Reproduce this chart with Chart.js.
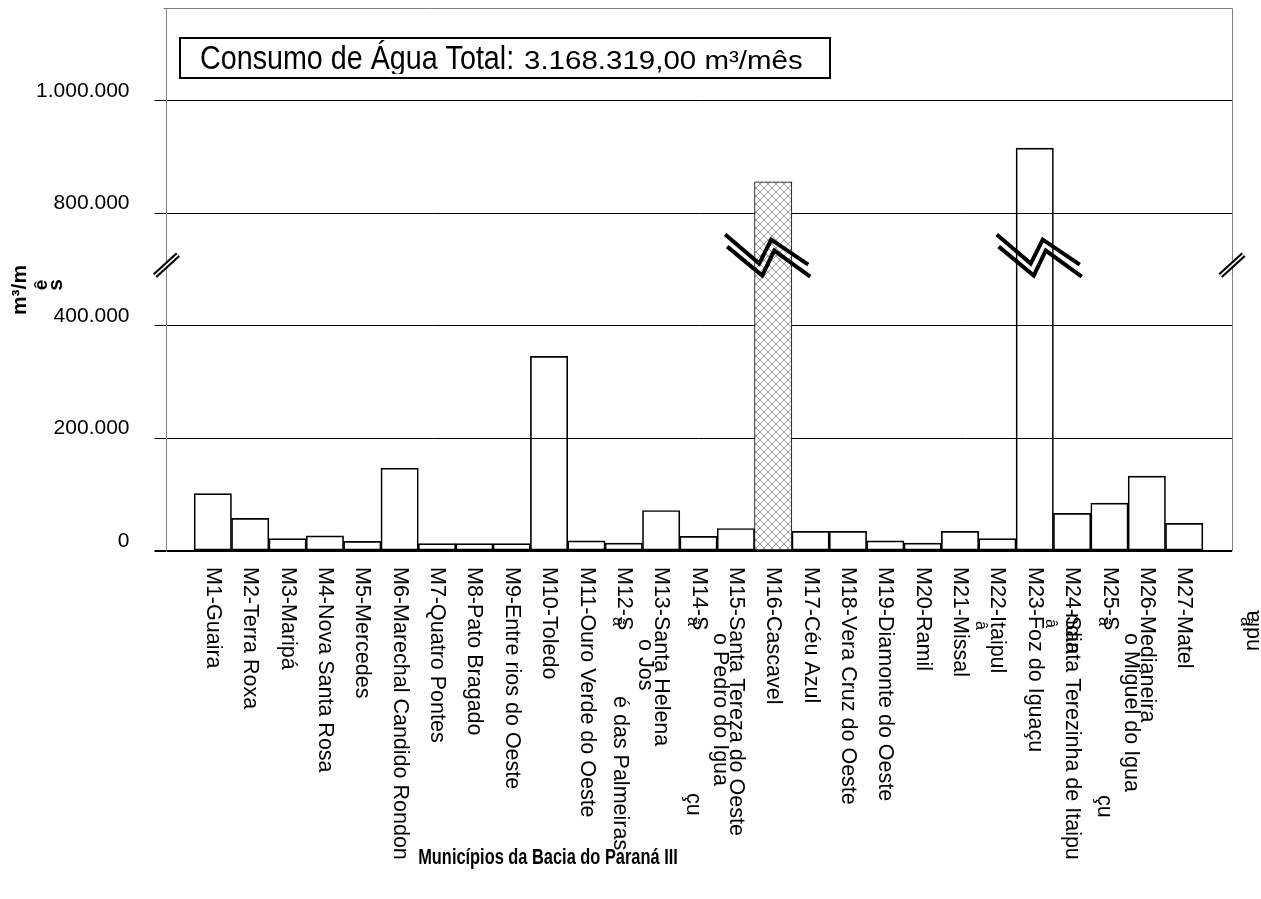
<!DOCTYPE html>
<html>
<head>
<meta charset="utf-8">
<script src="https://cdn.jsdelivr.net/npm/chart.js@4.4.1/dist/chart.umd.min.js"></script>
<style>
  html, body { margin: 0; padding: 0; background: #ffffff; }
  canvas { display: block; }
</style>
</head>
<body>
<canvas id="chart" width="1261" height="899"></canvas>
<script>
// Municipalities of the Paraná III basin (labels as they are printed under each bar)
const categories = [
  'M1-Guaira', 'M2-Terra Roxa', 'M3-Maripá', 'M4-Nova Santa Rosa', 'M5-Mercedes',
  'M6-Marechal Candido Rondon', 'M7-Quatro Pontes', 'M8-Pato Bragado', 'M9-Entre rios do Oeste',
  'M10-Toledo', 'M11-Ouro Verde do Oeste', 'M12-S', 'M13-Santa Helena', 'M14-S',
  'M15-Santa Tereza do Oeste', 'M16-Cascavel', 'M17-Céu Azul', 'M18-Vera Cruz do Oeste',
  'M19-Diamonte do Oeste', 'M20-Ramil', 'M21-Missal', 'M22-Itaipul', 'M23-Foz do Iguaçu',
  'M24-Santa Terezinha de Itaipu', 'M25-S', 'M26-Medianeira', 'M27-Matel'
];

// Water consumption per municipality (m³/mês)
const consumption = [
  102000, 58000, 22000, 27000, 17000,
  147000, 13000, 13000, 13000,
  346000, 18000, 14000, 72000, 26000,
  40000, 856000, 35000, 35000,
  18000, 14000, 35000, 22000, 916000,
  67000, 85000, 133000, 49000
];

// Value axis (broken between 400.000 and 800.000)
const tickValues = [0, 200000, 400000, 800000, 1000000];
const tickLabels = ['0', '200.000', '400.000', '800.000', '1.000.000'];
const breakFrom = 400000;
const breakTo = 800000;

const hatchedIndex = 15;
const titleLead = 'Consumo de Água Total:';
const titleValue = '3.168.319,00 m³/mês';
const yTitle = ['m³/m', 'ê', 's'];
const xTitle = 'Municípios da Bacia do Paraná III';

// Loose text pieces printed around some category names
const labelPieces = [
  { at: 11, text: 'ã', along: 50, perp: -6, size: 16 },
  { at: 11, text: 'o Jos', along: 72, perp: 21, size: 21.5 },
  { at: 11, text: 'é das Palmeiras', along: 129, perp: -4, size: 21.5 },
  { at: 13, text: 'ã', along: 50, perp: -6, size: 16 },
  { at: 13, text: 'o Pedro do Igua', along: 66, perp: 21, size: 21.5 },
  { at: 13, text: 'çu', along: 226, perp: -6, size: 21.5 },
  { at: 21, text: 'â', along: 54, perp: -17, size: 16 },
  { at: 23, text: 'â', along: 52, perp: -22, size: 16 },
  { at: 23, text: 'ndia', along: 46, perp: 0, size: 21.5 },
  { at: 24, text: 'ã', along: 50, perp: -6, size: 16 },
  { at: 24, text: 'o Miguel do Igua', along: 66, perp: 21, size: 21.5 },
  { at: 24, text: 'çu', along: 228, perp: -6, size: 21.5 },
  { at: 26, text: 'â', along: 50, perp: 61, size: 16 },
  { at: 26, text: 'ndia', along: 84, perp: 69, size: 21.5, upward: true }
];

// Zigzag break marks drawn across the two tall bars
const breakMarks = [ { at: 15, dx: -6 }, { at: 22, dx: 4 } ];
const breakLevel = 525000;   // in compressed axis units
const axisBreakLevel = 508000;

const FONT = '"Liberation Sans", Arial, Helvetica, sans-serif';

// Map a real value onto the compressed axis (400k–800k squeezed into one grid step)
function toAxis(v) {
  if (v <= breakFrom) return v;
  if (v <= breakTo) return breakFrom + (v - breakFrom) / 2;
  return v - (breakTo - breakFrom) / 2;
}
const axisTicks = tickValues.map(toAxis);

function makeHatch() {
  const c = document.createElement('canvas');
  c.width = 8; c.height = 8;
  const g = c.getContext('2d');
  g.fillStyle = '#ffffff';
  g.fillRect(0, 0, 8, 8);
  g.strokeStyle = '#9a9a9a';
  g.lineWidth = 1;
  g.beginPath();
  g.moveTo(0, 0); g.lineTo(8, 8);
  g.moveTo(8, 0); g.lineTo(0, 8);
  g.stroke();
  return g.createPattern(c, 'repeat');
}
const hatch = makeHatch();

function rotText(ctx, text, x, y, angle, font, align) {
  ctx.save();
  ctx.translate(x, y);
  ctx.rotate(angle);
  ctx.font = font;
  ctx.textAlign = align || 'left';
  ctx.textBaseline = 'middle';
  ctx.fillStyle = '#000';
  ctx.fillText(text, 0, 0);
  ctx.restore();
}

const decorations = {
  id: 'decorations',
  afterDatasetsDraw(chart) {
    const ctx = chart.ctx;
    const xs = chart.scales.x, ys = chart.scales.y;
    const area = chart.chartArea;

    // plot frame (top and right)
    ctx.save();
    ctx.strokeStyle = '#808080';
    ctx.lineWidth = 1;
    ctx.beginPath();
    ctx.moveTo(area.left - 3, area.top + 0.5);
    ctx.lineTo(area.right + 0.5, area.top + 0.5);
    ctx.lineTo(area.right + 0.5, area.bottom);
    ctx.stroke();
    ctx.restore();

    // zigzag breaks on the tall bars
    const by = ys.getPixelForValue(breakLevel);
    const strokes = [
      [[-42, -21], [-8, 8], [4, -16], [41, 9]],
      [[-40, -9], [-5, 20], [7, -5], [43, 21]]
    ];
    ctx.save();
    ctx.strokeStyle = '#000';
    ctx.lineWidth = 4;
    ctx.lineJoin = 'miter';
    breakMarks.forEach(m => {
      const cx = xs.getPixelForValue(m.at) + m.dx;
      strokes.forEach(s => {
        ctx.beginPath();
        s.forEach((p, k) => {
          if (k === 0) ctx.moveTo(cx + p[0], by + p[1]);
          else ctx.lineTo(cx + p[0], by + p[1]);
        });
        ctx.stroke();
      });
    });
    ctx.restore();

    // double-slash breaks on both plot edges
    const ay = ys.getPixelForValue(axisBreakLevel);
    [area.left, area.right].forEach(ex => {
      ctx.save();
      ctx.lineCap = 'butt';
      ctx.beginPath();
      ctx.moveTo(ex - 11.5, ay + 10.5);
      ctx.lineTo(ex + 11.5, ay - 10.5);
      ctx.strokeStyle = '#000';
      ctx.lineWidth = 6;
      ctx.stroke();
      ctx.strokeStyle = '#fff';
      ctx.lineWidth = 1.6;
      ctx.stroke();
      ctx.restore();
    });
  },
  afterDraw(chart) {
    const ctx = chart.ctx;
    const xs = chart.scales.x;
    const area = chart.chartArea;
    const labelTop = area.bottom + 16;

    // category names, reading downward
    categories.forEach((name, i) => {
      const x = xs.getPixelForValue(i);
      rotText(ctx, name, x, labelTop, Math.PI / 2, '21.5px ' + FONT, 'left');
    });
    labelPieces.forEach(p => {
      const x = xs.getPixelForValue(p.at) + p.perp;
      const font = p.size + 'px ' + FONT;
      if (p.upward) rotText(ctx, p.text, x, labelTop + p.along, -Math.PI / 2, font, 'left');
      else rotText(ctx, p.text, x, labelTop + p.along, Math.PI / 2, font, 'left');
    });

    // axis titles
    rotText(ctx, yTitle[0], 20, 290, -Math.PI / 2, 'bold 21px ' + FONT, 'center');
    rotText(ctx, yTitle[1], 42, 285, -Math.PI / 2, 'bold 19px ' + FONT, 'center');
    rotText(ctx, yTitle[2], 56, 285, -Math.PI / 2, 'bold 21px ' + FONT, 'center');

    ctx.save();
    ctx.translate(548, 858);
    ctx.scale(1, 1.3);
    ctx.font = 'bold 16.4px ' + FONT;
    ctx.textAlign = 'center';
    ctx.textBaseline = 'middle';
    ctx.fillStyle = '#000';
    ctx.fillText(xTitle, 0, 0);
    ctx.restore();

    // total consumption box
    ctx.save();
    ctx.fillStyle = '#fff';
    ctx.fillRect(180, 38, 650, 40);
    ctx.strokeStyle = '#000';
    ctx.lineWidth = 2;
    ctx.strokeRect(180, 38, 650, 40);
    ctx.beginPath();
    ctx.rect(181, 39, 648, 35);
    ctx.clip();
    ctx.fillStyle = '#000';
    ctx.textBaseline = 'alphabetic';
    ctx.textAlign = 'left';
    ctx.save();
    ctx.translate(200, 69);
    ctx.scale(1, 1.15);
    ctx.font = '28.7px ' + FONT;
    ctx.fillText(titleLead, 0, 0);
    ctx.restore();
    ctx.translate(524, 69);
    ctx.scale(1.18, 1);
    ctx.font = '25px ' + FONT;
    ctx.fillText(titleValue, 0, 0);
    ctx.restore();
  }
};

new Chart(document.getElementById('chart'), {
  type: 'bar',
  data: {
    datasets: [{
      data: consumption.map((v, i) => ({ x: i, y: toAxis(v) })),
      backgroundColor: c => (c.dataIndex === hatchedIndex ? hatch : 'rgba(0,0,0,0)'),
      borderColor: '#000',
      borderWidth: 1,
      borderSkipped: false,
      barPercentage: 1,
      categoryPercentage: 1
    }]
  },
  options: {
    responsive: false,
    animation: false,
    devicePixelRatio: 1,
    layout: { padding: { left: 0, right: 29, top: 8, bottom: 348 } },
    plugins: { legend: { display: false }, tooltip: { enabled: false } },
    scales: {
      x: {
        type: 'linear',
        offset: false,
        min: -1.24,
        max: 27.28,
        display: false,
        grid: { offset: false }
      },
      y: {
        min: 0,
        max: 965000,
        afterFit(scale) {
          scale.width = 166.5;
          scale.paddingTop = 0;
          scale.paddingBottom = 0;
        },
        afterBuildTicks(scale) { scale.ticks = axisTicks.map(v => ({ value: v })); },
        ticks: {
          callback: (v, i) => tickLabels[i],
          font: { family: FONT, size: 21 },
          color: '#000',
          padding: 25,
          labelOffset: -10,
          autoSkip: false
        },
        grid: {
          color: '#000',
          lineWidth: c => (c.tick && c.tick.value === 0 ? 2 : 1),
          tickLength: 12,
          drawTicks: true
        },
        border: { display: true, color: '#808080', width: 1 }
      }
    }
  },
  plugins: [decorations]
});
</script>
</body>
</html>
